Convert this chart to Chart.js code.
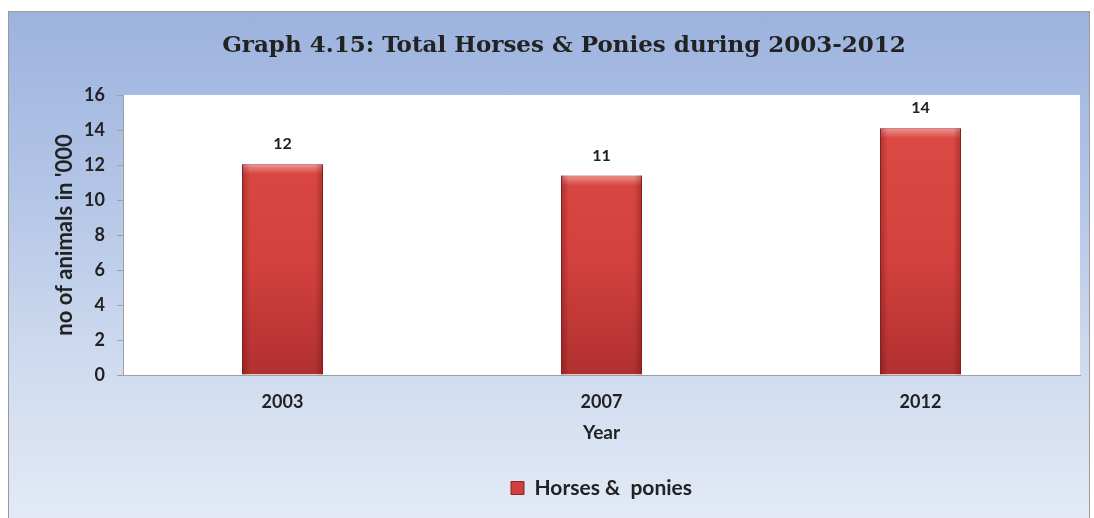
<!DOCTYPE html>
<html>
<head>
<meta charset="utf-8">
<title>Graph 4.15</title>
<script src="https://cdn.jsdelivr.net/npm/chart.js@4.4.1/dist/chart.umd.min.js"></script>
<style>
    html, body { margin: 0; padding: 0; background: #fff; }
    #marco {
        position: absolute; left: 8px; top: 11px; width: 1082px; height: 507px;
        box-sizing: border-box; border: 1px solid #9a9a9a; border-bottom: none;
        background: linear-gradient(to bottom, #9cb3de 0%, #b3c5e6 35%, #cfdbef 70%, #e3eaf6 100%);
    }
    #grafica { position: absolute; left: 8px; top: 11px; }
</style>
</head>
<body>
<div id="marco"></div>
<canvas id="grafica" width="1082" height="507"></canvas>
<script>
// Datos de la gráfica
const anios = ["2003", "2007", "2012"];
const caballos = [12.05, 11.4, 14.1];
const marcasY = [0, 2, 4, 6, 8, 10, 12, 14, 16];

const fuenteEje = "Lato, 'Open Sans', sans-serif";

// Fondo blanco del área de trazado
const fondoArea = {
    id: "fondoArea",
    beforeDraw(chart) {
        const a = chart.chartArea;
        const ctx = chart.ctx;
        ctx.save();
        ctx.fillStyle = "#ffffff";
        ctx.fillRect(a.left, a.top, a.right - a.left, a.bottom - a.top);
        ctx.restore();
    }
};

// Relieve de las barras y etiquetas de valor
const relieve = {
    id: "relieve",
    afterDatasetsDraw(chart) {
        const ctx = chart.ctx;
        const meta = chart.getDatasetMeta(0);
        ctx.save();
        meta.data.forEach(function (barra, i) {
            const izq = barra.x - barra.width / 2;
            const der = barra.x + barra.width / 2;
            const arriba = barra.y;
            const abajo = barra.base;

            // borde superior claro
            let g = ctx.createLinearGradient(0, arriba, 0, arriba + 10);
            g.addColorStop(0, "rgba(255,210,205,0.55)");
            g.addColorStop(1, "rgba(255,210,205,0)");
            ctx.fillStyle = g;
            ctx.fillRect(izq + 1, arriba + 1, der - izq - 2, 10);

            // bordes laterales oscuros
            g = ctx.createLinearGradient(izq, 0, izq + 8, 0);
            g.addColorStop(0, "rgba(90,10,10,0.35)");
            g.addColorStop(1, "rgba(90,10,10,0)");
            ctx.fillStyle = g;
            ctx.fillRect(izq, arriba, 8, abajo - arriba);

            g = ctx.createLinearGradient(der, 0, der - 8, 0);
            g.addColorStop(0, "rgba(90,10,10,0.35)");
            g.addColorStop(1, "rgba(90,10,10,0)");
            ctx.fillStyle = g;
            ctx.fillRect(der - 8, arriba, 8, abajo - arriba);

            // etiqueta
            ctx.fillStyle = "#222";
            ctx.font = "bold 16px " + fuenteEje;
            ctx.textAlign = "center";
            ctx.textBaseline = "middle";
            ctx.fillText(String(Math.round(caballos[i])), barra.x, arriba - 20);
        });
        ctx.restore();
    }
};

function colorBarra(context) {
    const area = context.chart.chartArea;
    if (!area) return "#cc3e3a";
    const g = context.chart.ctx.createLinearGradient(0, area.top, 0, area.bottom);
    g.addColorStop(0, "#e04c47");
    g.addColorStop(0.6, "#d2413d");
    g.addColorStop(1, "#b03030");
    return g;
}

const ctx = document.getElementById("grafica").getContext("2d");
new Chart(ctx, {
    type: "bar",
    data: {
        labels: anios,
        datasets: [{
            label: "Horses &  ponies",
            data: caballos,
            backgroundColor: colorBarra,
            borderColor: "#9b2929",
            borderWidth: 1,
            categoryPercentage: 1,
            barPercentage: 0.254
        }]
    },
    options: {
        responsive: false,
        animation: false,
        layout: { padding: { left: 40, right: 10, top: 0, bottom: 9.5 } },
        plugins: {
            tooltip: { enabled: false },
            title: {
                display: true,
                text: "Graph 4.15: Total Horses & Ponies during 2003-2012",
                color: "#222",
                font: { family: "'DejaVu Serif', serif", size: 23, weight: "bold" },
                padding: { top: 21, bottom: 35.4 }
            },
            legend: {
                position: "bottom",
                fullSize: false,
                labels: {
                    color: "#222",
                    boxWidth: 13,
                    boxHeight: 13,
                    padding: 10,
                    font: { family: fuenteEje, size: 21, weight: "bold" },
                    generateLabels: function (chart) {
                        const items = Chart.defaults.plugins.legend.labels.generateLabels(chart);
                        items.forEach(function (it) {
                            it.fillStyle = "#cf3f3b";
                            it.strokeStyle = "#8e2424";
                            it.lineWidth = 1;
                        });
                        return items;
                    }
                }
            }
        },
        scales: {
            x: {
                grid: { display: false, drawTicks: false },
                border: { color: "#a0a0a0", width: 1 },
                ticks: {
                    color: "#222",
                    padding: 16,
                    font: { family: fuenteEje, size: 18, weight: "bold" }
                },
                title: {
                    display: true,
                    text: "Year",
                    color: "#222",
                    padding: { top: 9, bottom: 23 },
                    font: { family: fuenteEje, size: 19, weight: "bold" }
                },
                afterFit: function (escala) { escala.height = 92.5; }
            },
            y: {
                min: marcasY[0],
                max: marcasY[marcasY.length - 1],
                grid: { drawOnChartArea: false, drawTicks: true, tickLength: 6, color: "#a0a0a0" },
                border: { color: "#a0a0a0", width: 1 },
                ticks: {
                    stepSize: marcasY[1] - marcasY[0],
                    color: "#222",
                    padding: 12,
                    font: { family: fuenteEje, size: 18, weight: "bold" }
                },
                title: {
                    display: true,
                    text: "no of animals in '000",
                    color: "#222",
                    padding: { top: 4, bottom: 0 },
                    font: { family: fuenteEje, size: 22, weight: "bold" }
                },
                afterFit: function (escala) { escala.width = 75; }
            }
        }
    },
    plugins: [fondoArea, relieve]
});
</script>
</body>
</html>
